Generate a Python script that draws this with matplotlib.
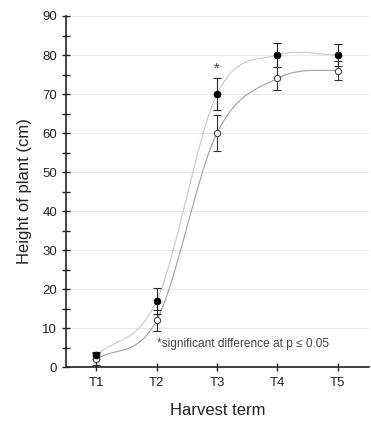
import matplotlib.pyplot as plt
import numpy as np

plt.rcParams['font.family'] = ['Liberation Sans', 'DejaVu Sans']

terms = ['T1', 'T2', 'T3', 'T4', 'T5']
filled_mean = [3, 17, 70, 80, 80]
filled_err = [1.0, 3.3, 4.2, 3.2, 2.7]
open_mean = [2, 12, 60, 74, 76]
open_err = [1.5, 2.7, 4.7, 3.0, 2.4]


def smooth(xs, ys, n=60):
    # catmull-rom style smoothing through the points
    xs = np.asarray(xs, float)
    ys = np.asarray(ys, float)
    m = np.zeros_like(ys)
    m[1:-1] = (ys[2:] - ys[:-2]) / (xs[2:] - xs[:-2])
    m[0] = ys[1] - ys[0]
    m[-1] = 0.0
    outx, outy = [], []
    for i in range(len(xs) - 1):
        t = np.linspace(0, 1, n)
        h = xs[i + 1] - xs[i]
        h00 = 2*t**3 - 3*t**2 + 1
        h10 = t**3 - 2*t**2 + t
        h01 = -2*t**3 + 3*t**2
        h11 = t**3 - t**2
        outx.extend(xs[i] + t*h)
        outy.extend(h00*ys[i] + h10*h*m[i] + h01*ys[i+1] + h11*h*m[i+1])
    return np.array(outx), np.array(outy)


x = np.arange(1, 6)

fig = plt.figure(figsize=(3.71, 4.21), dpi=100)
ax = fig.add_axes([0.178, 0.128, 0.817, 0.834])

ax.set_axisbelow(True)
ax.grid(axis='y', color='#e8e8e8', linewidth=0.7)

sx, sy = smooth(x, filled_mean)
ax.plot(sx, sy, color='#c8c8c8', linewidth=0.8)
sx, sy = smooth(x, open_mean)
ax.plot(sx, sy, color='#a0a0a0', linewidth=0.8)

ax.errorbar(x, open_mean, yerr=open_err, fmt='o', mfc='white', mec='#444444',
            ms=4.5, mew=0.8, ecolor='#333333', elinewidth=0.8, capsize=3, capthick=0.8)
ax.errorbar(x, filled_mean, yerr=filled_err, fmt='o', color='black',
            ms=4.5, ecolor='#222222', elinewidth=0.8, capsize=3, capthick=0.8)

ax.text(3, 76.5, '*', ha='center', va='center', fontsize=10, color='#444444')
ax.text(2.0, 5.8, '*significant difference at p \u2264 0.05', fontsize=8.6,
        color='#444444', ha='left', va='center')

ax.set_xlim(0.5, 5.52)
ax.set_ylim(0, 90)
ax.set_xticks(x)
ax.set_xticklabels(terms)
ax.set_yticks(np.arange(0, 91, 10))
ax.set_yticks(np.arange(5, 90, 10), minor=True)
ax.tick_params(axis='both', which='both', direction='inout', length=6, width=1,
               labelsize=9.5, colors='#222222')
ax.tick_params(axis='x', pad=4)
ax.tick_params(axis='y', which='minor', length=6)

for s in ['top', 'right']:
    ax.spines[s].set_visible(False)
for s in ['left', 'bottom']:
    ax.spines[s].set_linewidth(1.2)
    ax.spines[s].set_color('#222222')

ax.set_ylabel('Height of plant (cm)', fontsize=12, labelpad=7, color='#222222')
ax.set_xlabel('Harvest term', fontsize=12, labelpad=10, color='#222222')

plt.savefig('out.png', dpi=100)
